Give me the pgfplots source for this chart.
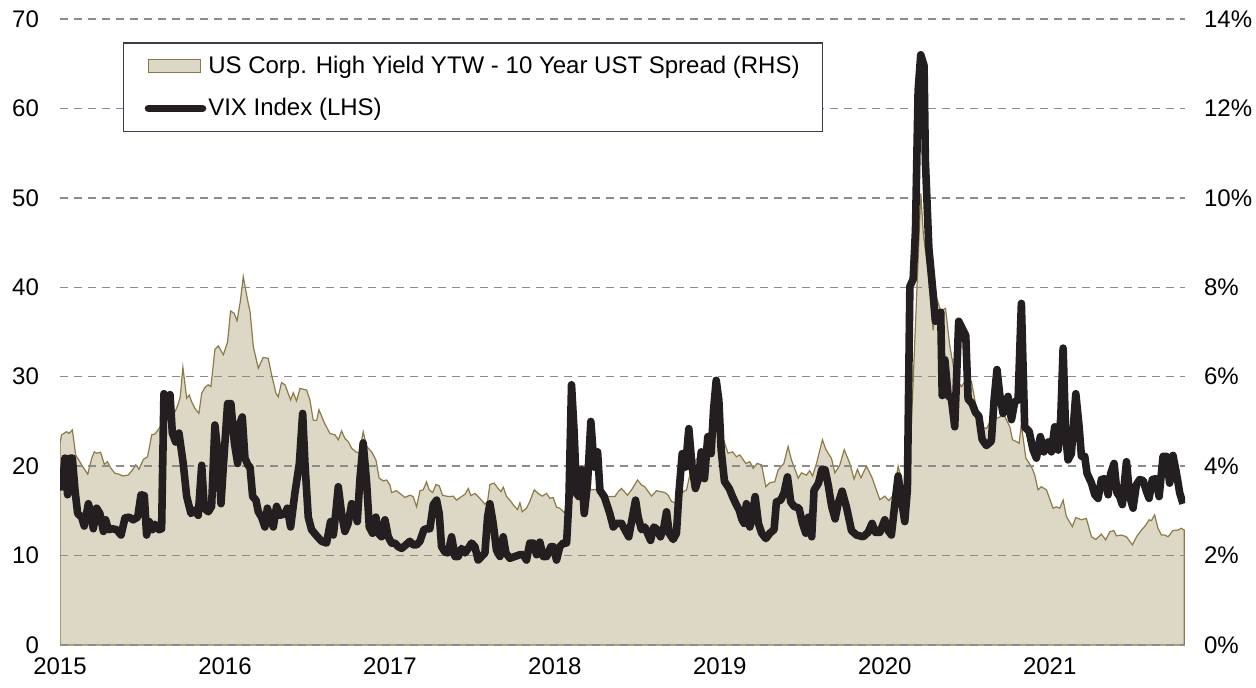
\documentclass[border=0pt]{standalone}
\usepackage{fontspec}
\setmainfont{Liberation Sans}
\usepackage{pgfplots}
\usepackage{pgfplotstable}
\pgfplotsset{compat=1.18}
\definecolor{areafill}{RGB}{221,215,198}
\definecolor{areaedge}{RGB}{140,123,72}
\definecolor{vixc}{RGB}{35,31,32}
\definecolor{gridc}{RGB}{140,140,140}
\definecolor{legedge}{RGB}{58,63,80}

\pgfplotstableread{
x y
2015.000 4.52
2015.010 4.70
2015.040 4.77
2015.055 4.73
2015.075 4.81
2015.095 4.25
2015.131 4.03
2015.168 3.82
2015.192 4.17
2015.208 4.32
2015.222 4.29
2015.246 4.31
2015.269 4.04
2015.287 4.10
2015.309 3.95
2015.333 3.84
2015.358 3.82
2015.380 3.78
2015.414 3.80
2015.438 3.91
2015.459 4.03
2015.479 3.93
2015.505 4.15
2015.531 4.21
2015.556 4.70
2015.576 4.72
2015.602 4.85
2015.636 5.07
2015.667 5.11
2015.687 5.14
2015.713 5.35
2015.729 5.55
2015.745 6.21
2015.768 5.52
2015.784 5.59
2015.798 5.44
2015.818 5.29
2015.842 5.18
2015.859 5.63
2015.879 5.76
2015.899 5.82
2015.915 5.78
2015.939 6.61
2015.960 6.69
2015.990 6.49
2016.016 6.78
2016.034 7.47
2016.055 7.42
2016.073 7.25
2016.093 7.68
2016.111 8.24
2016.141 7.64
2016.152 7.46
2016.172 6.67
2016.202 6.19
2016.232 6.43
2016.262 6.41
2016.283 6.04
2016.309 5.63
2016.323 5.55
2016.343 5.87
2016.364 5.82
2016.398 5.48
2016.414 5.64
2016.434 5.46
2016.455 5.74
2016.495 5.70
2016.515 5.48
2016.535 5.03
2016.556 5.02
2016.570 5.26
2016.600 4.99
2016.636 4.73
2016.667 4.70
2016.687 4.59
2016.707 4.79
2016.727 4.62
2016.747 4.55
2016.768 4.40
2016.794 4.32
2016.814 4.29
2016.838 4.77
2016.859 4.44
2016.889 4.32
2016.915 4.14
2016.935 3.73
2016.960 3.67
2016.980 3.69
2017.000 3.58
2017.010 3.41
2017.040 3.45
2017.091 3.30
2017.121 3.35
2017.141 3.32
2017.162 3.09
2017.182 3.45
2017.202 3.47
2017.222 3.65
2017.238 3.47
2017.259 3.41
2017.279 3.59
2017.299 3.56
2017.319 3.35
2017.340 3.33
2017.364 3.32
2017.384 3.33
2017.404 3.24
2017.434 3.32
2017.455 3.37
2017.475 3.50
2017.491 3.34
2017.515 3.39
2017.545 3.28
2017.576 3.15
2017.592 3.21
2017.606 3.59
2017.632 3.62
2017.656 3.50
2017.673 3.43
2017.687 3.53
2017.707 3.32
2017.727 3.24
2017.753 3.11
2017.774 3.03
2017.788 3.18
2017.802 2.98
2017.828 3.06
2017.848 3.21
2017.875 3.47
2017.899 3.39
2017.923 3.33
2017.950 3.39
2017.970 3.28
2017.990 3.30
2018.010 3.08
2018.030 3.06
2018.057 2.96
2018.081 3.15
2018.131 3.47
2018.182 3.50
2018.222 3.47
2018.253 3.48
2018.283 3.39
2018.323 3.32
2018.364 3.32
2018.384 3.43
2018.404 3.50
2018.440 3.35
2018.465 3.47
2018.501 3.69
2018.525 3.58
2018.545 3.54
2018.586 3.33
2018.616 3.45
2018.667 3.41
2018.687 3.35
2018.707 3.21
2018.737 3.17
2018.778 3.43
2018.798 3.47
2018.818 3.80
2018.838 4.06
2018.889 4.29
2018.939 4.59
2018.970 4.88
2019.000 4.77
2019.030 4.51
2019.050 4.29
2019.077 4.32
2019.101 4.21
2019.121 4.25
2019.158 4.06
2019.182 4.10
2019.202 3.95
2019.226 4.06
2019.253 4.03
2019.279 3.54
2019.303 3.63
2019.333 3.65
2019.353 3.91
2019.388 4.06
2019.414 4.44
2019.434 4.14
2019.475 3.73
2019.495 3.85
2019.525 3.80
2019.545 3.90
2019.562 3.78
2019.586 4.06
2019.622 4.59
2019.642 4.38
2019.677 4.17
2019.697 3.85
2019.727 4.02
2019.754 4.37
2019.788 4.06
2019.814 3.71
2019.834 3.93
2019.855 3.74
2019.889 4.00
2019.923 3.74
2019.970 3.25
2020.000 3.33
2020.024 3.23
2020.051 3.35
2020.081 4.00
2020.111 3.55
2020.137 3.43
2020.166 5.35
2020.192 7.71
2020.218 10.10
2020.234 9.19
2020.263 8.33
2020.293 7.04
2020.313 7.78
2020.339 7.47
2020.368 7.53
2020.394 6.69
2020.428 5.98
2020.465 5.78
2020.495 5.94
2020.525 5.90
2020.556 5.27
2020.586 4.88
2020.616 4.84
2020.646 5.04
2020.687 5.08
2020.707 5.12
2020.727 5.11
2020.758 4.88
2020.774 4.59
2020.798 4.55
2020.814 4.51
2020.828 4.92
2020.855 4.18
2020.889 3.99
2020.909 3.80
2020.929 3.47
2020.949 3.54
2020.980 3.47
2021.020 3.06
2021.040 3.09
2021.061 3.06
2021.081 3.24
2021.101 2.87
2021.137 2.65
2021.158 2.85
2021.192 2.80
2021.222 2.83
2021.253 2.42
2021.279 2.36
2021.313 2.48
2021.339 2.35
2021.364 2.53
2021.388 2.56
2021.404 2.44
2021.434 2.46
2021.465 2.42
2021.501 2.24
2021.529 2.44
2021.556 2.57
2021.582 2.68
2021.602 2.80
2021.616 2.78
2021.636 2.91
2021.656 2.61
2021.677 2.46
2021.697 2.46
2021.717 2.42
2021.747 2.56
2021.778 2.57
2021.798 2.61
2021.815 2.57
}\spreadtable

\pgfplotstableread{
x y
2015.000 17.7
2015.014 17.7
2015.030 20.9
2015.046 16.8
2015.061 20.9
2015.075 20.9
2015.091 17.3
2015.107 14.7
2015.131 14.3
2015.147 13.3
2015.172 15.8
2015.188 14.7
2015.202 13.0
2015.222 15.3
2015.242 14.7
2015.263 12.7
2015.277 14.0
2015.293 12.9
2015.317 13.0
2015.343 12.9
2015.370 12.3
2015.394 14.2
2015.418 14.3
2015.444 14.0
2015.471 14.3
2015.491 16.8
2015.511 16.7
2015.525 12.3
2015.541 13.8
2015.560 12.9
2015.576 13.5
2015.600 12.9
2015.616 13.0
2015.630 28.1
2015.657 26.6
2015.667 28.0
2015.681 23.7
2015.701 22.7
2015.721 23.7
2015.747 20.3
2015.768 16.6
2015.794 14.7
2015.818 15.1
2015.838 14.5
2015.859 20.1
2015.875 15.3
2015.899 14.9
2015.919 15.5
2015.939 24.6
2015.960 20.9
2015.976 15.8
2015.990 19.9
2016.016 27.0
2016.036 27.0
2016.057 22.6
2016.077 20.3
2016.091 24.8
2016.105 25.5
2016.121 20.9
2016.140 20.1
2016.152 19.9
2016.168 16.6
2016.188 16.2
2016.202 14.9
2016.222 14.3
2016.242 13.2
2016.257 15.3
2016.273 14.3
2016.293 13.2
2016.313 15.5
2016.333 14.5
2016.364 14.7
2016.378 15.3
2016.398 13.2
2016.424 17.0
2016.451 20.3
2016.471 25.9
2016.485 20.3
2016.505 14.3
2016.525 12.9
2016.556 12.2
2016.586 11.6
2016.616 11.4
2016.640 13.8
2016.657 12.3
2016.673 15.0
2016.687 17.7
2016.707 14.7
2016.727 12.7
2016.747 13.6
2016.768 15.8
2016.788 15.3
2016.802 13.8
2016.818 18.5
2016.838 22.6
2016.859 18.1
2016.875 13.2
2016.895 12.5
2016.915 14.3
2016.929 12.5
2016.949 12.1
2016.970 14.0
2016.990 12.1
2017.010 11.4
2017.030 11.4
2017.050 11.0
2017.071 10.8
2017.097 11.2
2017.121 11.6
2017.141 11.2
2017.162 11.2
2017.182 11.6
2017.206 12.9
2017.222 13.0
2017.242 13.0
2017.263 15.7
2017.283 16.2
2017.299 14.7
2017.313 11.0
2017.333 10.4
2017.353 10.3
2017.374 12.1
2017.394 9.9
2017.414 9.9
2017.434 10.8
2017.455 10.3
2017.475 10.8
2017.495 11.4
2017.515 11.0
2017.535 9.5
2017.556 9.9
2017.576 10.3
2017.592 14.3
2017.606 15.8
2017.626 13.6
2017.646 10.6
2017.667 9.9
2017.687 12.1
2017.703 10.3
2017.727 9.7
2017.758 9.9
2017.788 10.1
2017.808 10.1
2017.828 9.5
2017.848 11.4
2017.869 11.4
2017.889 10.1
2017.909 11.5
2017.929 9.9
2017.950 9.9
2017.976 11.0
2017.990 11.0
2018.010 9.5
2018.030 11.0
2018.051 11.4
2018.071 11.4
2018.085 16.2
2018.101 29.1
2018.117 23.7
2018.131 17.0
2018.145 16.6
2018.162 19.6
2018.178 14.7
2018.198 18.1
2018.218 25.0
2018.238 19.9
2018.259 21.6
2018.273 17.3
2018.299 16.6
2018.319 15.5
2018.333 14.7
2018.354 13.2
2018.374 13.6
2018.404 13.6
2018.424 12.9
2018.448 12.1
2018.468 14.1
2018.489 16.2
2018.505 14.3
2018.525 12.9
2018.545 13.2
2018.580 11.7
2018.600 13.2
2018.620 12.9
2018.640 12.1
2018.661 13.2
2018.677 14.9
2018.693 12.5
2018.717 11.8
2018.737 12.5
2018.752 17.0
2018.772 21.4
2018.792 19.9
2018.812 24.2
2018.832 19.9
2018.852 17.5
2018.873 18.8
2018.887 21.6
2018.907 18.6
2018.927 23.3
2018.947 21.4
2018.962 26.3
2018.978 29.6
2018.994 27.4
2019.008 21.8
2019.028 18.3
2019.057 17.5
2019.077 16.6
2019.097 15.8
2019.117 15.1
2019.133 14.1
2019.147 13.6
2019.161 15.8
2019.182 13.2
2019.198 14.6
2019.214 16.6
2019.234 13.6
2019.254 12.5
2019.279 11.9
2019.303 12.5
2019.329 12.9
2019.343 16.0
2019.369 16.2
2019.389 17.0
2019.410 18.8
2019.430 16.0
2019.450 15.5
2019.480 15.3
2019.501 13.6
2019.521 12.5
2019.537 14.3
2019.557 12.1
2019.571 17.3
2019.598 18.1
2019.618 19.6
2019.638 19.6
2019.658 17.8
2019.678 15.5
2019.699 14.1
2019.717 15.8
2019.741 17.2
2019.768 15.4
2019.798 12.8
2019.828 12.3
2019.869 12.1
2019.899 12.6
2019.923 13.6
2019.943 12.6
2019.970 12.6
2020.000 14.0
2020.020 12.8
2020.040 12.3
2020.061 15.8
2020.081 18.9
2020.101 16.2
2020.121 13.8
2020.137 17.4
2020.152 40.1
2020.172 40.9
2020.186 46.4
2020.202 62.0
2020.218 66.0
2020.238 64.8
2020.246 54.2
2020.267 44.4
2020.293 39.3
2020.307 36.2
2020.323 37.0
2020.339 37.2
2020.348 27.9
2020.364 31.9
2020.384 27.9
2020.404 27.5
2020.424 24.4
2020.448 36.2
2020.475 35.2
2020.491 34.6
2020.505 27.5
2020.529 27.0
2020.550 26.0
2020.570 25.6
2020.590 23.0
2020.616 22.3
2020.646 22.8
2020.663 27.5
2020.680 30.8
2020.697 28.0
2020.717 25.9
2020.747 27.8
2020.768 25.2
2020.788 27.2
2020.808 27.4
2020.828 38.2
2020.848 24.4
2020.875 23.9
2020.899 21.8
2020.919 20.9
2020.943 23.3
2020.964 21.6
2020.990 22.7
2021.010 21.6
2021.030 24.4
2021.051 21.8
2021.067 25.5
2021.081 33.2
2021.097 23.3
2021.111 20.7
2021.131 21.4
2021.158 28.1
2021.178 24.4
2021.192 21.1
2021.212 21.1
2021.226 19.2
2021.253 18.1
2021.273 16.8
2021.293 16.4
2021.313 18.5
2021.333 18.6
2021.354 16.8
2021.370 19.2
2021.390 20.3
2021.408 17.0
2021.424 16.6
2021.440 15.7
2021.465 20.5
2021.485 16.6
2021.505 15.3
2021.525 17.9
2021.545 18.5
2021.566 18.4
2021.586 17.2
2021.602 16.4
2021.622 18.5
2021.642 18.6
2021.663 16.6
2021.687 21.1
2021.707 21.1
2021.727 18.1
2021.747 21.2
2021.768 19.2
2021.788 17.0
2021.808 15.8
}\vixtable

\pgfplotsset{
  base/.style={
    width=562.5pt, height=313pt, scale only axis,
    at={(0pt,0pt)}, anchor=south west,
    xmin=2015, xmax=2021.82,
    axis line style={draw=none},
    major tick length=0pt,
    tick label style={font=\fontsize{12}{14}\selectfont},
  },
  areaswatch/.style={legend image code/.code={\draw[##1] (0pt,-3.2pt) rectangle (26pt,3.2pt);}},
  lineswatch/.style={legend image code/.code={\draw[##1, line cap=round] (0pt,0pt) -- (27pt,0pt);}},
}

\begin{document}
\begin{tikzpicture}
\path[use as bounding box] (-30pt,-21pt) rectangle (598pt,322.5pt);
\begin{axis}[base,
  ymin=0, ymax=14,
  xtick=\empty,
  yticklabel pos=right,
  ytick={0,2,4,6,8,10,12,14},
  yticklabels={0\%,2\%,4\%,6\%,8\%,10\%,12\%,14\%},
  yticklabel style={xshift=6pt},
]
\addplot[fill=areafill, draw=areaedge, line width=0.6pt] table[x=x,y=y] {\spreadtable} \closedcycle;
\end{axis}
\begin{axis}[base,
  ymin=0, ymax=70,
  ytick={0,10,20,30,40,50,60,70},
  yticklabels={0,10,20,30,40,50,60,70},
  yticklabel style={xshift=-7pt},
  xtick={2015,2016,2017,2018,2019,2020,2021},
  xticklabels={2015,2016,2017,2018,2019,2020,2021},
  xticklabel style={yshift=-3pt},
  ymajorgrids,
  grid style={gridc, line width=0.75pt, dash pattern=on 4pt off 3pt},
  legend cell align=left,
  legend style={at={(0.056,0.963)}, anchor=north west, draw=legedge, line width=0.7pt,
    font=\fontsize{12}{14}\selectfont, inner xsep=10.5pt, inner ysep=5.5pt, row sep=9pt,
    nodes={inner sep=1pt}},
]
\addlegendimage{areaswatch, fill=areafill, draw=areaedge, line width=0.6pt}
\addlegendentry{US Corp. High Yield YTW - 10 Year UST Spread (RHS)}
\addplot[vixc, line width=3.8pt, line join=round, lineswatch] table[x=x,y=y] {\vixtable};
\addlegendentry{VIX Index (LHS)}
\end{axis}
\end{tikzpicture}
\end{document}
